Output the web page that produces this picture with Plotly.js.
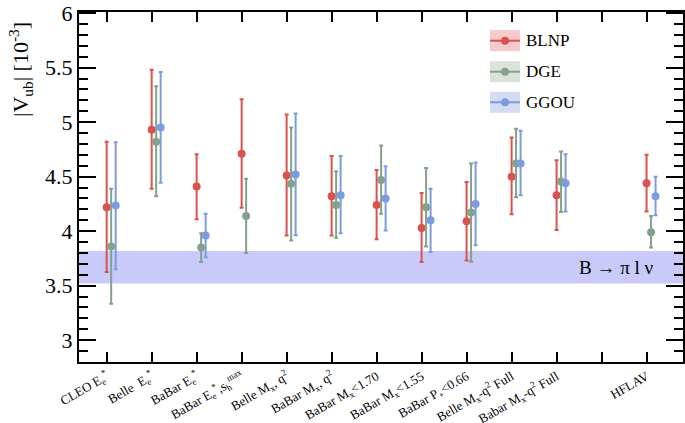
<!DOCTYPE html>
<html>
<head>
<meta charset="utf-8">
<script src="https://cdn.plot.ly/plotly-3.0.1.min.js"></script>
<style>html,body{margin:0;padding:0;background:#fff;}#chart{width:685px;height:423px;}</style>
</head>
<body>
<div id="chart"></div>
<script>
// ---- data ----
var categories = [
  "CLEO E<sub>e</sub><sup>*</sup>",
  "Belle  E<sub>e</sub><sup>*</sup>",
  "BaBar E<sub>e</sub><sup>*</sup>",
  "BaBar E<sub>e</sub><sup>*</sup>,s<sub>h</sub><sup>max</sup>",
  "Belle M<sub>x</sub>, q<sup>2</sup>",
  "BaBar M<sub>x</sub>, q<sup>2</sup>",
  "BaBar M<sub>x</sub>&lt;1.70",
  "BaBar M<sub>x</sub>&lt;1.55",
  "BaBar P<sub>+</sub>&lt;0.66",
  "Belle M<sub>x</sub>-q<sup>2</sup> Full",
  "Babar M<sub>x</sub>-q<sup>2</sup> Full",
  "",
  "HFLAV"
];
var seriesNames = ["BLNP", "DGE", "GGOU"];
var blnp    = [4.22, 4.93, 4.41, 4.71, 4.51, 4.32, 4.24, 4.03, 4.09, 4.50, 4.33, null, 4.44];
var blnpHi  = [4.82, 5.48, 4.705, 5.21, 5.07, 4.69, 4.56, 4.35, 4.45, 4.86, 4.65, null, 4.70];
var blnpLo  = [3.625, 4.39, 4.11, 4.215, 3.96, 3.96, 3.925, 3.716, 3.73, 4.155, 4.01, null, 4.18];
var dge     = [3.86, 4.82, 3.85, 4.14, 4.434, 4.24, 4.47, 4.22, 4.17, 4.62, 4.455, null, 3.99];
var dgeHi   = [4.39, 5.33, 3.98, 4.48, 4.95, 4.55, 4.785, 4.58, 4.62, 4.94, 4.73, null, 4.14];
var dgeLo   = [3.335, 4.32, 3.717, 3.80, 3.915, 3.94, 4.16, 3.86, 3.72, 4.31, 4.175, null, 3.85];
var ggou    = [4.235, 4.95, 3.96, null, 4.52, 4.33, 4.30, 4.10, 4.25, 4.62, 4.44, null, 4.32];
var ggouHi  = [4.815, 5.46, 4.16, null, 5.08, 4.69, 4.595, 4.39, 4.63, 4.92, 4.705, null, 4.50];
var ggouLo  = [3.65, 4.445, 3.76, null, 3.963, 3.98, 4.006, 3.81, 3.87, 4.33, 4.18, null, 4.145];
var yTickVals = [3, 3.5, 4, 4.5, 5, 5.5, 6];
var yTickText = ["3", "3.5", "4", "4.5", "5", "5.5", "6"];
var bandLow = 3.52, bandHigh = 3.817;
var bandLabel = "B \u2192 \u03c0 l \u03bd";

// ---- styles ----
var colors = ["#d9534f", "#84a189", "#7c9be0"];
var patchColors = ["#f4caca", "#d9e3da", "#d3dcf2"];
var offsets = [0, 0.1, 0.2];
var FONT = "'Liberation Serif', 'Times New Roman', Times, 'DejaVu Serif', serif";

var sets = [[blnp, blnpHi, blnpLo], [dge, dgeHi, dgeLo], [ggou, ggouHi, ggouLo]];
var traces = sets.map(function (s, k) {
  var xs = [], ys = [], ep = [], em = [];
  for (var i = 0; i < categories.length; i++) {
    if (s[0][i] === null) continue;
    xs.push(i + offsets[k]);
    ys.push(s[0][i]);
    ep.push(s[1][i] - s[0][i]);
    em.push(s[0][i] - s[2][i]);
  }
  return {
    type: "scatter", mode: "markers", name: seriesNames[k],
    x: xs, y: ys, showlegend: false, cliponaxis: false,
    marker: {color: colors[k], size: 8},
    error_y: {type: "data", symmetric: false, array: ep, arrayminus: em,
              color: colors[k], thickness: 2, width: 2}
  };
});

// plot area in px for manual legend placement
var L = 79, R = 683, T = 12, B = 362;
function px(x) { return (x - L) / (R - L); }
function py(y) { return 1 - (y - T) / (B - T); }

var shapes = [{
  type: "rect", xref: "paper", yref: "y", x0: 0, x1: 1, y0: bandLow, y1: bandHigh,
  fillcolor: "#c9c9fa", line: {width: 0}, layer: "below"
}];
var annotations = [{
  xref: "paper", yref: "y", x: px(656), y: (bandLow + bandHigh) / 2,
  text: bandLabel, showarrow: false, xanchor: "right", yanchor: "middle",
  font: {family: FONT, size: 19, color: "#000"}
}, {
  xref: "paper", yref: "paper", x: px(20), y: py(70), textangle: -90,
  text: "|V<sub>ub</sub>| [10<sup>-3</sup>]", showarrow: false,
  xanchor: "center", yanchor: "middle",
  font: {family: FONT, size: 22, color: "#000"}
}];
var legendY = [40.7, 71.7, 102.3];
seriesNames.forEach(function (n, k) {
  var cy = legendY[k];
  shapes.push({type: "rect", xref: "paper", yref: "paper",
    x0: px(490), x1: px(520), y0: py(cy - 10.5), y1: py(cy + 10.5),
    fillcolor: patchColors[k], line: {width: 0}});
  shapes.push({type: "line", xref: "paper", yref: "paper",
    x0: px(490), x1: px(520), y0: py(cy), y1: py(cy),
    line: {color: colors[k], width: 2}});
  shapes.push({type: "circle", xref: "paper", yref: "paper",
    x0: px(501), x1: px(509), y0: py(cy - 4), y1: py(cy + 4),
    fillcolor: colors[k], line: {width: 0}});
  annotations.push({xref: "paper", yref: "paper", x: px(524), y: py(cy),
    text: n, showarrow: false, xanchor: "left", yanchor: "middle",
    font: {family: FONT, size: 17, color: "#000"}});
});

var layout = {
  width: 685, height: 423,
  margin: {l: L, r: 685 - R, t: T, b: 423 - B},
  paper_bgcolor: "#fff", plot_bgcolor: "#fff",
  showlegend: false,
  font: {family: FONT, color: "#000"},
  xaxis: {
    range: [-0.615, 12.81], tickmode: "array",
    tickvals: categories.map(function (c, i) { return i; }),
    ticktext: categories, tickangle: -30,
    tickfont: {family: FONT, size: 13, color: "#000"},
    ticks: "inside", ticklen: 10, tickwidth: 2, tickcolor: "#000",
    showline: true, linewidth: 2, linecolor: "#000", mirror: "ticks",
    showgrid: false, zeroline: false
  },
  yaxis: {
    range: [2.8, 6.01], tickmode: "array",
    tickvals: yTickVals, ticktext: yTickText, ticklabeloverflow: "allow",
    tickfont: {family: FONT, size: 22, color: "#000"},
    ticks: "inside", ticklen: 17, tickwidth: 2, tickcolor: "#000",
    minor: {ticks: "inside", ticklen: 9, tickwidth: 2, tickcolor: "#000", dtick: 0.1, tick0: 0, showgrid: false},
    showline: true, linewidth: 2, linecolor: "#000", mirror: "ticks",
    showgrid: false, zeroline: false
  },
  shapes: shapes,
  annotations: annotations
};

Plotly.newPlot("chart", traces, layout, {displayModeBar: false, staticPlot: true});
</script>
</body>
</html>
